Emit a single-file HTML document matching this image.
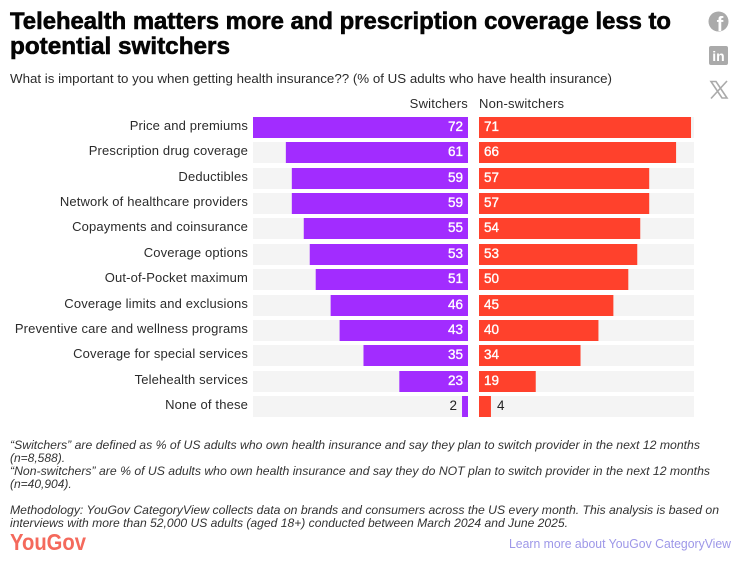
<!DOCTYPE html>
<html lang="en">
<head>
<meta charset="utf-8">
<title>Telehealth matters more and prescription coverage less to potential switchers</title>
<style>
html,body{margin:0;padding:0;background:#fff;width:739px;height:562px;overflow:hidden}
svg{display:block;font-family:"Liberation Sans",sans-serif}
.label{font-size:13px;fill:#2b2b2b;text-anchor:end;letter-spacing:.15px}
.header{font-size:13px;fill:#2b2b2b;letter-spacing:.22px}
.val{font-size:13.5px}
.foot{font-size:12px;font-style:italic;fill:#333}
</style>
</head>
<body>
<svg id="chart" width="739" height="562" viewBox="0 0 739 562" xmlns="http://www.w3.org/2000/svg">
  <text x="10" y="29" font-size="24" font-weight="700" fill="#050505" textLength="661" lengthAdjust="spacingAndGlyphs" stroke="#050505" stroke-width=".6">Telehealth matters more and prescription coverage less to</text>
  <text x="10" y="54" font-size="24" font-weight="700" fill="#050505" textLength="220" lengthAdjust="spacingAndGlyphs" stroke="#050505" stroke-width=".6">potential switchers</text>
  <text x="10" y="83" font-size="13" fill="#2b2b2b" textLength="602" lengthAdjust="spacingAndGlyphs">What is important to you when getting health insurance?? (% of US adults who have health insurance)</text>

  <g>
    <circle cx="718.500" cy="21.500" r="10" fill="#aaa"/>
    <text x="720" y="31" font-size="20" font-weight="700" fill="#fff" text-anchor="middle">f</text>
  </g>
  <g>
    <rect x="709" y="46" width="19" height="19" rx="2" fill="#aaa"/>
    <text x="718.500" y="61" font-size="14" font-weight="700" fill="#fff" text-anchor="middle">in</text>
  </g>
  <g stroke="#aaa" fill="none">
    <path d="M711 81.500 L716 81.500 L727 98 L722 98 Z" stroke-width="1.600"/>
    <path d="M727 81 L711 98.500" stroke-width="1.600"/>
  </g>

  <g id="marks"></g>

  <g class="foot">
    <text x="10" y="449" textLength="690" lengthAdjust="spacingAndGlyphs">“Switchers” are defined as % of US adults who own health insurance and say they plan to switch provider in the next 12 months</text>
    <text x="10" y="462">(n=8,588).</text>
    <text x="10" y="475" textLength="700" lengthAdjust="spacingAndGlyphs">“Non-switchers” are % of US adults who own health insurance and say they do NOT plan to switch provider in the next 12 months</text>
    <text x="10" y="488">(n=40,904).</text>
    <text x="10" y="514" textLength="709" lengthAdjust="spacingAndGlyphs">Methodology: YouGov CategoryView collects data on brands and consumers across the US every month. This analysis is based on</text>
    <text x="10" y="527" textLength="558" lengthAdjust="spacingAndGlyphs">interviews with more than 52,000 US adults (aged 18+) conducted between March 2024 and June 2025.</text>
  </g>

  <text x="10" y="550" font-size="23" font-weight="700" fill="#f4695c" textLength="76" lengthAdjust="spacingAndGlyphs">YouGov</text>
  <text x="509" y="548" font-size="13" fill="#9d97e8" textLength="222" lengthAdjust="spacingAndGlyphs">Learn more about YouGov CategoryView</text>
</svg>
<script>
const categories = ["Price and premiums","Prescription drug coverage","Deductibles","Network of healthcare providers","Copayments and coinsurance","Coverage options","Out-of-Pocket maximum","Coverage limits and exclusions","Preventive care and wellness programs","Coverage for special services","Telehealth services","None of these"];
const switchers = [72,61,59,59,55,53,51,46,43,35,23,2];
const nonSwitchers = [71,66,57,57,54,53,50,45,40,34,19,4];
const seriesNames = ["Switchers","Non-switchers"];
const axisMax = 72;

const NS = "http://www.w3.org/2000/svg";
const root = document.getElementById("marks");
const leftBase = 468, rightBase = 479, panelWidth = 215;
const rowTop = 117, rowStep = 25.36, rowHeight = 21;
const xScale = v => v / axisMax * panelWidth;
const yScale = i => Math.round(rowTop + i * rowStep);

function make(tag, attrs, text) {
  const el = document.createElementNS(NS, tag);
  for (const k in attrs) el.setAttribute(k, attrs[k]);
  if (text !== undefined) el.textContent = text;
  root.appendChild(el);
  return el;
}

const hLeft = make("text", {x: leftBase, y: 108, class: "header", "text-anchor": "end"}, seriesNames[0]);


const hRight = make("text", {x: rightBase, y: 108, class: "header"}, seriesNames[1]);



categories.forEach((cat, i) => {
  const y = yScale(i), mid = y + rowHeight / 2 + 4.5;

  const label = make("text", {x: 248, y: mid - 2, class: "label"}, cat);
  
  

  const trackL = make("rect", {x: leftBase - panelWidth, y, width: panelWidth, height: rowHeight, fill: "#f4f4f4"});
  
  
  const trackR = make("rect", {x: rightBase, y, width: panelWidth, height: rowHeight, fill: "#f4f4f4"});
  
  

  const wL = xScale(switchers[i]), wR = xScale(nonSwitchers[i]);
  const barL = make("rect", {x: leftBase - wL, y, width: wL, height: rowHeight, fill: "#a22cff"});
  
  
  const barR = make("rect", {x: rightBase, y, width: wR, height: rowHeight, fill: "#ff412c"});
  
  

  const inL = wL > 30, inR = wR > 30;
  const valL = make("text", {
    x: inL ? leftBase - 5 : leftBase - wL - 5, y: mid - 1, class: "val", "text-anchor": "end",
    fill: inL ? "#fff" : "#222", stroke: inL ? "#fff" : "none", "stroke-width": 0.35
  }, switchers[i]);
  
  
  const valR = make("text", {
    x: inR ? rightBase + 5 : rightBase + wR + 6, y: mid - 1, class: "val",
    fill: inR ? "#fff" : "#222", stroke: inR ? "#fff" : "none", "stroke-width": 0.35
  }, nonSwitchers[i]);
  
  
});
</script>
</body>
</html>
